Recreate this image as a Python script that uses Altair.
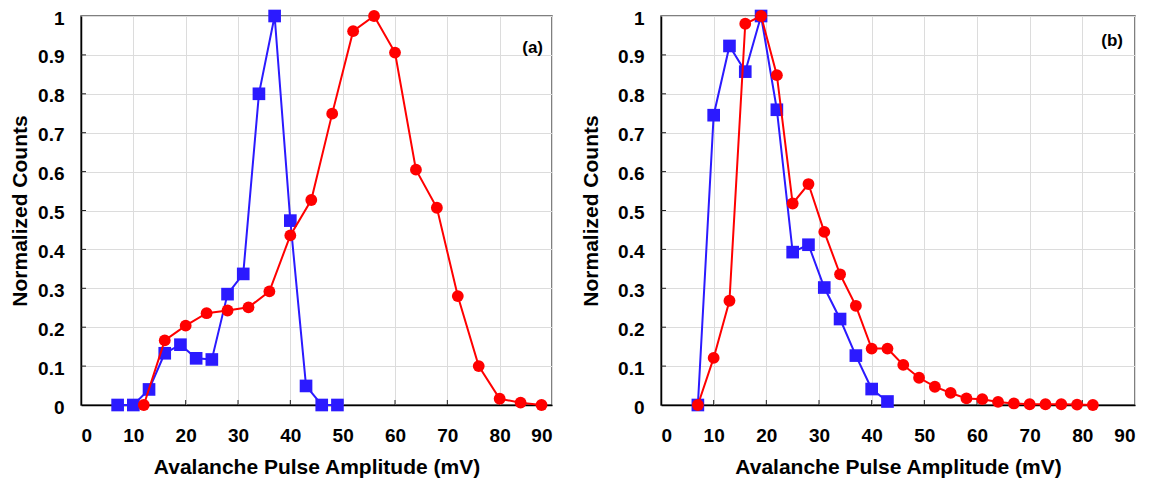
import altair as alt
import pandas as pd

# ---- data ----
a_blue_x = [7, 10, 13, 16, 19, 22, 25, 28, 31, 34, 37, 40, 43, 46, 49]
a_blue_y = [0, 0, 0.04, 0.133, 0.155, 0.12, 0.117, 0.285, 0.337, 0.80, 1.0, 0.474, 0.049, 0, 0]
a_red_x = [12, 16, 20, 24, 28, 32, 36, 40, 44, 48, 52, 56, 60, 64, 68, 72, 76, 80, 84, 88]
a_red_y = [0, 0.166, 0.204, 0.236, 0.243, 0.251, 0.292, 0.436, 0.527, 0.749, 0.961, 1.0,
           0.906, 0.605, 0.507, 0.280, 0.100, 0.016, 0.006, 0.0]

b_blue_x = [7, 10, 13, 16, 19, 22, 25, 28, 31, 34, 37, 40, 43]
b_blue_y = [0, 0.745, 0.923, 0.857, 1.0, 0.759, 0.393, 0.412, 0.302, 0.221, 0.127, 0.041, 0.009]
b_red_x = [7, 10, 13, 16, 19, 22, 25, 28, 31, 34, 37, 40, 43, 46, 49, 52, 55, 58, 61, 64,
           67, 70, 73, 76, 79, 82]
b_red_y = [0, 0.121, 0.268, 0.98, 1.0, 0.848, 0.518, 0.568, 0.445, 0.336, 0.255, 0.145, 0.145,
           0.103, 0.070, 0.047, 0.031, 0.017, 0.015, 0.008, 0.004, 0.002, 0.002, 0.002, 0.001, 0.0]

x_ticks = [0, 10, 20, 30, 40, 50, 60, 70, 80, 90]
y_ticks = [0, 0.1, 0.2, 0.3, 0.4, 0.5, 0.6, 0.7, 0.8, 0.9, 1.0]
x_inner_ticks = [10, 20, 30, 40, 50, 60, 70, 80]
y_inner_ticks = [0.1, 0.2, 0.3, 0.4, 0.5, 0.6, 0.7, 0.8, 0.9]

x_title = "Avalanche Pulse Amplitude (mV)"
y_title = "Normalized Counts"

BLUE = "#2b1aff"
RED = "#ff0000"
FONT = "Liberation Sans"
H = 389


def panel(bx, by, rx, ry, label, width, y_title_pad, label_dx, label_dy):
    xs = alt.Scale(domain=[0, 90], nice=False, zero=False)
    ys = alt.Scale(domain=[0, 1], nice=False, zero=False)
    xax = alt.Axis(values=x_ticks, title=x_title, grid=True, ticks=False,
                   labelPadding=21, titlePadding=11, format="d")
    yax = alt.Axis(values=y_ticks, title=y_title, grid=True, ticks=False,
                   labelPadding=17, labelOffset=2, titlePadding=y_title_pad, format=".1~f")

    df_b = pd.DataFrame({"x": bx, "y": by})
    df_r = pd.DataFrame({"x": rx, "y": ry})

    base_b = alt.Chart(df_b).encode(x=alt.X("x:Q", scale=xs, axis=xax),
                                    y=alt.Y("y:Q", scale=ys, axis=yax))
    blue_line = base_b.mark_line(color=BLUE, strokeWidth=2)
    blue_pts = base_b.mark_point(shape="square", filled=True, size=160, color=BLUE, opacity=1)

    base_r = alt.Chart(df_r).encode(x=alt.X("x:Q", scale=xs, axis=xax),
                                    y=alt.Y("y:Q", scale=ys, axis=yax))
    red_line = base_r.mark_line(color=RED, strokeWidth=2)
    red_pts = base_r.mark_point(shape="circle", filled=True, size=140, color=RED, opacity=1)

    ytk = alt.Chart(pd.DataFrame({"v": y_inner_ticks})).mark_rule(
        color="#222", strokeWidth=1).encode(
        y=alt.Y("v:Q", scale=ys, axis=yax), x=alt.value(0), x2=alt.value(5))
    xtk = alt.Chart(pd.DataFrame({"v": x_inner_ticks})).mark_rule(
        color="#222", strokeWidth=1).encode(
        x=alt.X("v:Q", scale=xs, axis=xax), y=alt.value(H), y2=alt.value(H - 5))

    txt = alt.Chart(pd.DataFrame({"t": [label]})).mark_text(
        align="right", baseline="middle", fontSize=17, fontWeight="bold",
        font=FONT, color="black").encode(
        text="t:N", x=alt.value(width - label_dx), y=alt.value(label_dy))

    return alt.layer(ytk, xtk, blue_line, blue_pts, red_line, red_pts, txt).properties(
        width=width, height=H)


pa = panel(a_blue_x, a_blue_y, a_red_x, a_red_y, "(a)", 471, 7, 9, 32)
pb = panel(b_blue_x, b_blue_y, b_red_x, b_red_y, "(b)", 474, 16, 12, 25)

chart = alt.hconcat(pa, pb, spacing=26).properties(
    padding={"left": 0, "top": 0, "right": 0, "bottom": 0}
).configure_view(
    stroke="#555", strokeWidth=1.5
).configure_axis(
    labelFont=FONT, labelFontSize=19, labelFontWeight="bold", labelColor="black",
    titleFont=FONT, titleFontSize=21, titleFontWeight="bold", titleColor="black",
    domainColor="black", domainWidth=1.5, gridColor="#dcdcdc", gridWidth=1
)

chart.save("out.html", embed_options={"renderer": "svg", "actions": False})
